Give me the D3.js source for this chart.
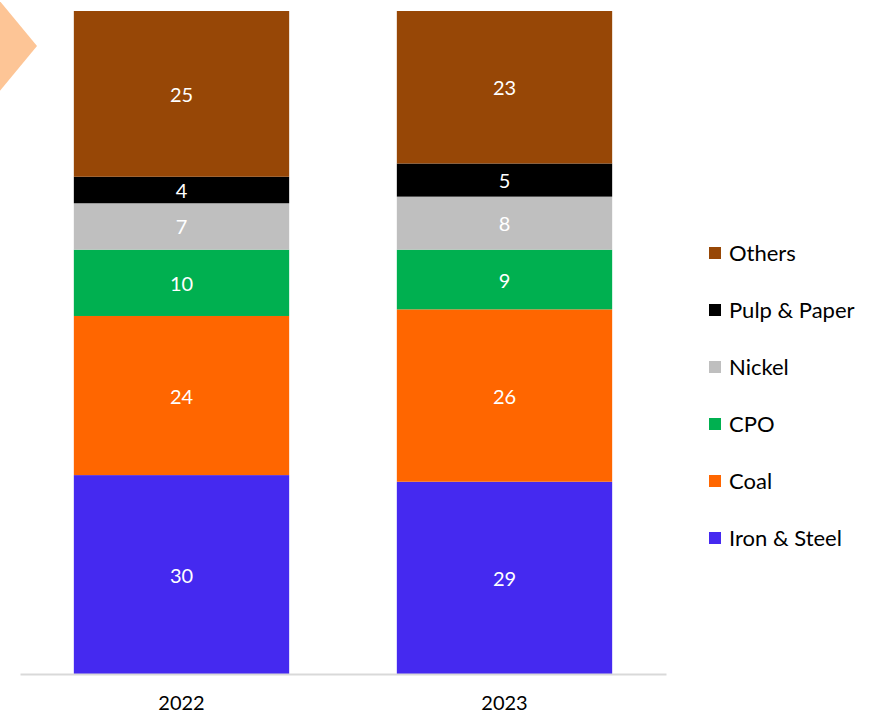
<!DOCTYPE html>
<html>
<head>
<meta charset="utf-8">
<script src="https://cdn.jsdelivr.net/npm/d3@7"></script>
<style>
  body { margin: 0; background: #fff; }
  svg text { font-family: Lato, "Open Sans", sans-serif; }
</style>
</head>
<body>
<div id="chart"></div>
<script>
// categories (x axis) and series, bottom to top
var years = ["2022", "2023"];
var sectors = ["Iron & Steel", "Coal", "CPO", "Nickel", "Pulp & Paper", "Others"];
var sectorColors = ["#4529F0", "#FF6600", "#00B050", "#BFBFBF", "#000000", "#974706"];

// share of each sector, per year (same order as sectors)
var values2022 = [30, 24, 10, 7, 4, 25];
var values2023 = [29, 26, 9, 8, 5, 23];

var width = 869, height = 714;

var svg = d3.select('#chart').append('svg')
  .attr('width', width)
  .attr('height', height);

// the peach arrow poking in from the left edge
svg.append('polygon')
  .attr('points', '-6,-6 37,46 -6,98')
  .attr('fill', '#FDC596');

// build rows for d3.stack
var table = years.map(function (y, i) {
  var row = { year: y };
  var vals = i === 0 ? values2022 : values2023;
  sectors.forEach(function (s, j) { row[s] = vals[j]; });
  return row;
});

var series = d3.stack().keys(sectors)(table);

var x = d3.scaleBand()
  .domain(years)
  .range([20, 666])
  .paddingInner(1 / 3)
  .paddingOuter(1 / 6);

var y = d3.scaleLinear()
  .domain([0, 100])
  .range([674, 11]);

var color = d3.scaleOrdinal().domain(sectors).range(sectorColors);

var layers = svg.append('g').selectAll('g.layer')
  .data(series)
  .enter().append('g')
  .attr('class', 'layer')
  .attr('fill', function (d) { return color(d.key); });

layers.selectAll('rect')
  .data(function (d) { return d; })
  .enter().append('rect')
  .attr('x', function (d) { return x(d.data.year); })
  .attr('width', x.bandwidth())
  .attr('y', function (d) { return y(d[1]); })
  .attr('height', function (d) { return y(d[0]) - y(d[1]); });

// value labels in the middle of each segment
layers.selectAll('text')
  .data(function (d) { return d; })
  .enter().append('text')
  .attr('x', function (d) { return x(d.data.year) + x.bandwidth() / 2; })
  .attr('y', function (d) { return y((d[0] + d[1]) / 2); })
  .attr('dy', '0.4em')
  .attr('text-anchor', 'middle')
  .attr('fill', '#fff')
  .attr('font-size', 20)
  .text(function (d) { return d[1] - d[0]; });

// x axis: light baseline and year labels
var xAxis = svg.append('g')
  .attr('transform', 'translate(0,674)')
  .call(d3.axisBottom(x).tickSize(0).tickPadding(22));

xAxis.select('.domain')
  .attr('stroke', '#D9D9D9')
  .attr('stroke-width', 2);

xAxis.selectAll('text')
  .attr('font-size', 20)
  .attr('fill', '#000')
  .style('font-family', 'Lato, "Open Sans", sans-serif');

// legend, Others on top
var legendKeys = sectors.slice().reverse();
var legend = svg.append('g').selectAll('g.item')
  .data(legendKeys)
  .enter().append('g')
  .attr('class', 'item')
  .attr('transform', function (d, i) { return 'translate(709,' + (247 + i * 57) + ')'; });

legend.append('rect')
  .attr('width', 12)
  .attr('height', 12)
  .attr('fill', function (d) { return color(d); });

legend.append('text')
  .attr('x', 20)
  .attr('y', 6)
  .attr('dy', '0.35em')
  .attr('font-size', 22)
  .attr('fill', '#000')
  .text(function (d) { return d; });
</script>
</body>
</html>
